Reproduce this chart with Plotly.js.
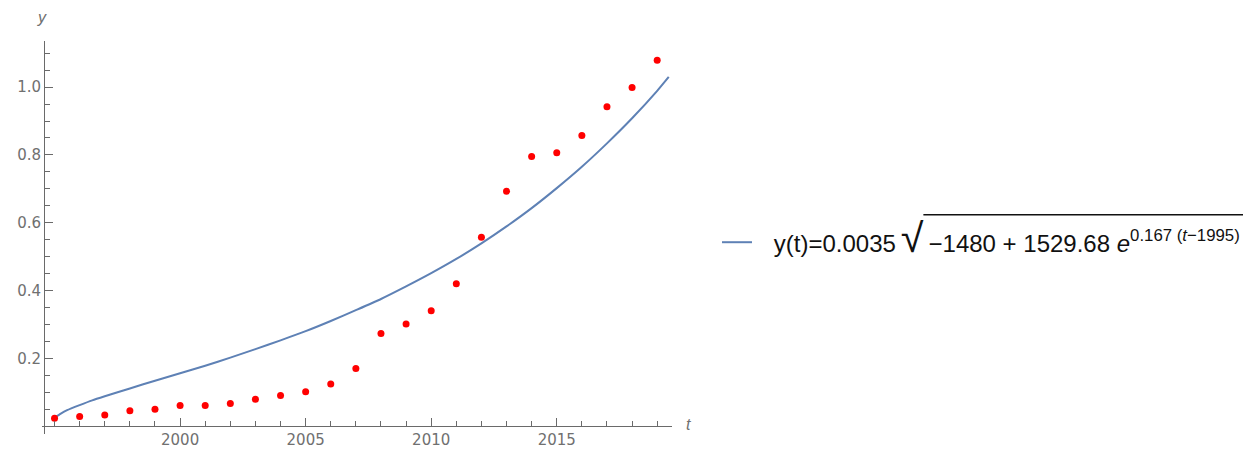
<!DOCTYPE html>
<html>
<head>
<meta charset="utf-8">
<script src="https://cdn.plot.ly/plotly-3.0.1.min.js"></script>
<style>html,body{margin:0;padding:0;background:#fff;}#chart{width:1243px;height:450px;}</style>
</head>
<body>
<div id="chart"></div>
<script>
// Observed data points (red)
const years = [1995,1996,1997,1998,1999,2000,2001,2002,2003,2004,2005,2006,2007,2008,2009,2010,2011,2012,2013,2014,2015,2016,2017,2018,2019];
const observed = [0.023,0.028,0.033,0.045,0.050,0.061,0.061,0.067,0.079,0.090,0.101,0.124,0.170,0.273,0.301,0.340,0.420,0.557,0.693,0.795,0.806,0.857,0.942,0.999,1.079];

// Fitted curve, values
const curveT = [1995,1995.25,1995.5,1996,1996.5,1997,1998,1999,2000,2001,2002,2003,2004,2005,2006,2007,2008,2009,2010,2011,2012,2013,2014,2015,2016,2017,2018,2019,2019.46];
const curveY = [0.025,0.037,0.047,0.062,0.076,0.088,0.111,0.134,0.156,0.178,0.202,0.227,0.253,0.280,0.310,0.342,0.375,0.412,0.451,0.493,0.539,0.589,0.643,0.702,0.765,0.834,0.908,0.989,1.030];

// Tick values / labels
const xMajor = [2000,2005,2010,2015];
const xMinor = [1995,1996,1997,1998,1999,2001,2002,2003,2004,2006,2007,2008,2009,2011,2012,2013,2014,2016,2017,2018,2019];
const yMajor = [0.2,0.4,0.6,0.8,1.0];
const yMajorText = ['0.2','0.4','0.6','0.8','1.0'];
const yMinor = [0.05,0.1,0.15,0.25,0.3,0.35,0.45,0.5,0.55,0.65,0.7,0.75,0.85,0.9,0.95,1.05,1.1];

const legendName = '\u2002\u2009y(t)=0.0035\u2009<span style="font-size:42px">√</span>\u2009−1480 + 1529.68 <i>e</i><sup>0.167 (<i>t</i>−1995)</sup>';

const axisColor = '#6a6a6a';
const tickFont = {family: 'DejaVu Sans', size: 15, color: '#707070'};

const traces = [
  {
    x: curveT, y: curveY, type: 'scatter', mode: 'lines',
    line: {color: '#5e81b5', width: 2, shape: 'spline', smoothing: 0.6},
    name: legendName, showlegend: true
  },
  {
    x: years, y: observed, type: 'scatter', mode: 'markers',
    marker: {color: '#ff0000', size: 7},
    showlegend: false, name: 'data'
  }
];

const layout = {
  width: 1243, height: 450,
  margin: {l: 42, r: 571, t: 41, b: 16, autoexpand: false},
  paper_bgcolor: '#ffffff', plot_bgcolor: '#ffffff',
  showlegend: true,
  xaxis: {
    range: [1994.50, 2019.59],
    anchor: 'free', position: 0.0201,
    showgrid: false, zeroline: false,
    showline: true, linecolor: axisColor, linewidth: 1,
    tickmode: 'array', tickvals: xMajor,
    ticks: 'inside', ticklen: 8, tickcolor: axisColor, tickwidth: 1,
    minor: {tickmode: 'array', tickvals: xMinor, ticks: 'inside', ticklen: 5, tickcolor: axisColor, tickwidth: 1, showgrid: false},
    tickfont: tickFont
  },
  yaxis: {
    range: [-0.0233, 1.136],
    anchor: 'free', position: 0.0032,
    showgrid: false, zeroline: false,
    showline: true, linecolor: axisColor, linewidth: 1,
    tickmode: 'array', tickvals: yMajor, ticktext: yMajorText,
    ticks: 'inside', ticklen: 8, tickcolor: axisColor, tickwidth: 1,
    minor: {tickmode: 'array', tickvals: yMinor, ticks: 'inside', ticklen: 5, tickcolor: axisColor, tickwidth: 1, showgrid: false},
    tickfont: tickFont
  },
  legend: {
    x: 1.0714, xanchor: 'left', y: 0.487, yanchor: 'middle',
    font: {family: 'Liberation Sans', size: 24, color: '#111111'},
    bgcolor: 'rgba(0,0,0,0)', borderwidth: 0
  },
  annotations: [
    {text: '<i>y</i>', xref: 'paper', yref: 'paper', x: 0.0, y: 1.061, xanchor: 'center', yanchor: 'middle', showarrow: false, font: {family: 'Liberation Sans', size: 16, color: '#707070'}},
    {text: '<i>t</i>', xref: 'paper', yref: 'paper', x: 1.0254, y: 0.023, xanchor: 'center', yanchor: 'middle', showarrow: false, font: {family: 'Liberation Sans', size: 16, color: '#707070'}}
  ],
  shapes: [
    {type: 'line', xref: 'paper', yref: 'paper', x0: 1.399, x1: 1.92, y0: 0.558, y1: 0.558, line: {color: '#111111', width: 1.5}}
  ]
};

Plotly.newPlot('chart', traces, layout, {displayModeBar: false, staticPlot: true});
</script>
</body>
</html>
